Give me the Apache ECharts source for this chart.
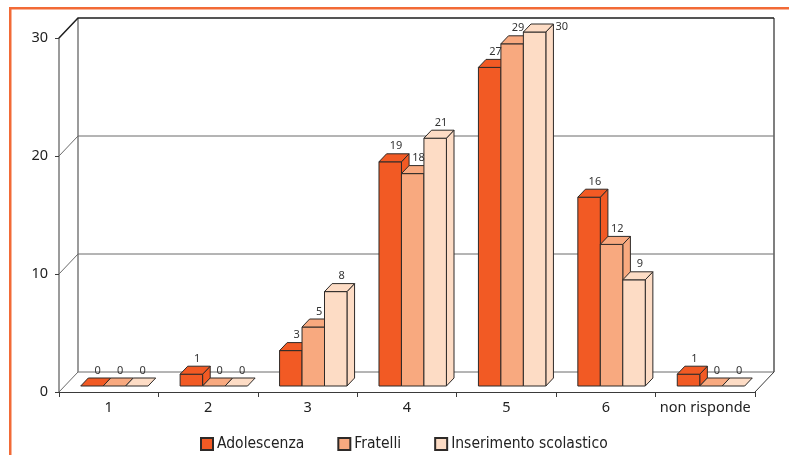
<!DOCTYPE html>
<html>
<head>
<meta charset="utf-8">
<style>
  html, body { margin: 0; padding: 0; background: #fff; }
  #chart { width: 789px; height: 455px; }
</style>
<script src="https://cdn.jsdelivr.net/npm/echarts@6/dist/echarts.min.js"></script>
</head>
<body>
<div id="chart"></div>
<script>
// Categories on the x axis
const categories = ['1', '2', '3', '4', '5', '6', 'non risponde'];

// Series values (one per category)
const adolescenza = [0, 1, 3, 19, 27, 16, 1];
const fratelli = [0, 0, 5, 18, 29, 12, 0];
const inserimento = [0, 0, 8, 21, 30, 9, 0];

const seriesNames = ['Adolescenza', 'Fratelli', 'Inserimento scolastico'];
const seriesValues = [adolescenza, fratelli, inserimento];
const seriesColors = ['#F25A24', '#F8A97F', '#FDDCC5'];

// Value axis ticks
const yTicks = [0, 10, 20, 30];
const Y_MAX = 30;

// Pseudo-3D depth of the chart box (pixels)
const DEPTH_X = 19;
const DEPTH_Y = -20;
// Bars occupy the slice between these depth fractions
const BAR_D0 = 0.3;
const BAR_D1 = 0.7;
const BAR_FRACTION = 0.226; // bar width as a share of the category band

const FONT = 'Noto Sans';
const OUTLINE = '#2e2a28';

const chart = echarts.init(document.getElementById('chart'), null, { renderer: 'canvas' });

// Back wall, side wall, floor and gridlines
function renderFrame(params, api) {
  const cs = params.coordSys;
  const v = api.value(0);
  const y = api.coord([0, v])[1];
  const x0 = cs.x, x1 = cs.x + cs.width;
  const children = [];
  const isTop = v === Y_MAX;
  children.push({
    type: 'polyline',
    shape: { points: [[x0, y], [x0 + DEPTH_X, y + DEPTH_Y], [x1 + DEPTH_X, y + DEPTH_Y]] },
    style: { stroke: isTop ? '#1e1e1e' : '#6a6a6a', lineWidth: isTop ? 1.5 : 1, fill: null }
  });
  if (v === 0) {
    const yTop = api.coord([0, Y_MAX])[1];
    // floor right edge
    children.push({
      type: 'line',
      shape: { x1: x1, y1: y, x2: x1 + DEPTH_X, y2: y + DEPTH_Y },
      style: { stroke: '#3a3a3a', lineWidth: 1 }
    });
    // back wall vertical edges
    children.push({
      type: 'line',
      shape: { x1: x0 + DEPTH_X, y1: y + DEPTH_Y, x2: x0 + DEPTH_X, y2: yTop + DEPTH_Y },
      style: { stroke: '#7a7a7a', lineWidth: 1.5 }
    });
    children.push({
      type: 'line',
      shape: { x1: x1 + DEPTH_X, y1: y + DEPTH_Y, x2: x1 + DEPTH_X, y2: yTop + DEPTH_Y },
      style: { stroke: '#555', lineWidth: 1.5 }
    });
  }
  return { type: 'group', children: children };
}

// A bar drawn as a box with front, side and top faces
function makeBarRenderer(k) {
  return function (params, api) {
    const idx = api.value(0);
    const val = api.value(1);
    const band = api.size([1, 0])[0];
    const bw = band * BAR_FRACTION;
    const center = api.coord([idx, 0]);
    const topY = api.coord([idx, val])[1];
    const ox = DEPTH_X * BAR_D0, oy = DEPTH_Y * BAR_D0;
    const dx = DEPTH_X * (BAR_D1 - BAR_D0), dy = DEPTH_Y * (BAR_D1 - BAR_D0);
    const xl = center[0] + (k - 1) * bw - bw / 2 + ox;
    const xr = xl + bw;
    const yb = center[1] + oy;
    const yt = topY + oy;
    const color = seriesColors[k];
    const sty = { fill: color, stroke: OUTLINE, lineWidth: 1, lineJoin: 'round' };
    const children = [];
    if (yb - yt > 0.5) {
      children.push({
        type: 'polygon',
        shape: { points: [[xr, yt], [xr + dx, yt + dy], [xr + dx, yb + dy], [xr, yb]] },
        style: sty
      });
      children.push({
        type: 'rect',
        shape: { x: xl, y: yt, width: bw, height: yb - yt },
        style: sty
      });
    }
    children.push({
      type: 'polygon',
      shape: { points: [[xl, yt], [xl + dx, yt + dy], [xr + dx, yt + dy], [xr, yt]] },
      style: sty
    });
    // value label: above the top face, or beside it when the bar reaches the ceiling
    const atCeiling = val >= Y_MAX;
    children.push({
      type: 'text',
      z2: 100,
      style: atCeiling ? {
        x: xr + dx + 2,
        y: yt + dy / 2 - 1,
        text: String(val),
        fill: '#333',
        font: '11px "' + FONT + '"',
        align: 'left',
        verticalAlign: 'middle'
      } : {
        x: (xl + xr) / 2 + dx / 2 + 2,
        y: yt + dy - 2,
        text: String(val),
        fill: '#333',
        font: '11px "' + FONT + '"',
        align: 'center',
        verticalAlign: 'bottom'
      }
    });
    return { type: 'group', children: children };
  };
}

const barSeries = seriesNames.map(function (name, k) {
  return {
    name: name,
    type: 'custom',
    renderItem: makeBarRenderer(k),
    encode: { x: 0, y: 1 },
    itemStyle: { color: seriesColors[k], borderColor: OUTLINE, borderWidth: 1 },
    data: seriesValues[k].map(function (v, i) { return [i, v]; }),
    z: 3
  };
});

chart.setOption({
  animation: false,
  backgroundColor: '#fff',
  grid: { left: 59, right: 34, top: 38, bottom: 63 },
  legend: {
    data: seriesNames,
    left: 195,
    top: 431,
    icon: 'rect',
    itemWidth: 12,
    itemHeight: 12,
    itemGap: 33,
    textStyle: { fontFamily: 'DejaVu Sans Condensed', fontSize: 15.5, color: '#222', padding: [0, 0, 0, -1] }
  },
  xAxis: {
    type: 'category',
    data: categories,
    boundaryGap: true,
    axisLine: { show: true, lineStyle: { color: '#3a3a3a', width: 1 } },
    axisTick: { show: true, length: 5, alignWithLabel: false, lineStyle: { color: '#3a3a3a' } },
    axisLabel: { fontFamily: FONT, fontSize: 14.5, color: '#222', margin: 8, interval: 0 },
    splitLine: { show: false }
  },
  yAxis: {
    type: 'value',
    min: 0,
    max: Y_MAX,
    interval: 10,
    axisLine: { show: true, lineStyle: { color: '#7a7a7a', width: 1.5 } },
    axisTick: { show: true, length: 4, lineStyle: { color: '#3a3a3a' } },
    axisLabel: { fontFamily: FONT, fontSize: 14.5, color: '#222', margin: 11 },
    splitLine: { show: false }
  },
  graphic: [
    { type: 'rect', shape: { x: 9, y: 7, width: 790, height: 2.5 }, style: { fill: '#F26A36' } },
    { type: 'rect', shape: { x: 9, y: 7, width: 2.5, height: 460 }, style: { fill: '#F26A36' } }
  ],
  series: [
    {
      type: 'custom',
      name: 'frame',
      renderItem: renderFrame,
      encode: { y: 0 },
      data: yTicks.map(function (t) { return [t]; }),
      silent: true,
      z: 1
    }
  ].concat(barSeries)
});
</script>
</body>
</html>
